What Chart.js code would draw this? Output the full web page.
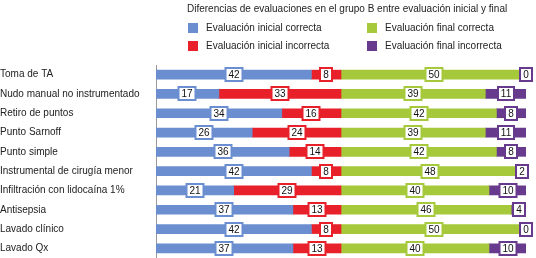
<!DOCTYPE html>
<html>
<head>
<meta charset="utf-8">
<script src="https://cdn.jsdelivr.net/npm/chart.js@4.4.1/dist/chart.umd.min.js"></script>
<style>
  body { margin: 0; background: #fff; font-family: "Liberation Sans", Arial, sans-serif; }
  #wrap { position: relative; width: 536px; height: 258px; }
  #chart { position: absolute; left: 0; top: 0; }
  .title { position: absolute; left: 187px; top: 3px; font-size: 10px; line-height: 12px; color: #222; white-space: nowrap; }
  .lg { position: absolute; font-size: 10px; color: #222; white-space: nowrap; line-height: 12px; }
  .lg span { position: absolute; left: -18px; top: 1px; width: 10px; height: 10px; }
</style>
</head>
<body>
<div id="wrap">
  <canvas id="chart" width="536" height="258"></canvas>
  <div class="title">Diferencias de evaluaciones en el grupo B entre evaluación inicial y final</div>
  <div class="lg" style="left:206px;top:22px"><span style="background:#6a8ecf"></span>Evaluación inicial correcta</div>
  <div class="lg" style="left:206px;top:40px"><span style="background:#e8202a"></span>Evaluación inicial incorrecta</div>
  <div class="lg" style="left:385px;top:22px"><span style="background:#a5c93a"></span>Evaluación final correcta</div>
  <div class="lg" style="left:385px;top:40px"><span style="background:#673a8e"></span>Evaluación final incorrecta</div>
</div>
<script>
var categories = ["Toma de TA", "Nudo manual no instrumentado", "Retiro de puntos", "Punto Sarnoff",
  "Punto simple", "Instrumental de cirugía menor", "Infiltración con lidocaína 1%",
  "Antisepsia", "Lavado clínico", "Lavado Qx"];
var inicialCorrecta   = [42, 17, 34, 26, 36, 42, 21, 37, 42, 37];
var inicialIncorrecta = [8, 33, 16, 24, 14, 8, 29, 13, 8, 13];
var finalCorrecta     = [50, 39, 42, 39, 42, 48, 40, 46, 50, 40];
var finalIncorrecta   = [0, 11, 8, 11, 8, 2, 10, 4, 0, 10];

// white boxes with the value, centred on each segment
var boxLabels = {
  id: "boxLabels",
  afterDatasetsDraw: function(chart) {
    var ctx = chart.ctx;
    ctx.save();
    ctx.font = "10px 'Liberation Sans', Arial, sans-serif";
    ctx.textAlign = "center";
    ctx.textBaseline = "middle";
    chart.data.datasets.forEach(function(ds, i) {
      var meta = chart.getDatasetMeta(i);
      meta.data.forEach(function(bar, j) {
        var txt = String(ds.data[j]);
        var cx = Math.round((bar.x + bar.base) / 2);
        var w = Math.round(ctx.measureText(txt).width) + 6;
        var h = 13;
        var y0 = Math.round(bar.y - h / 2);
        ctx.fillStyle = "#fff";
        ctx.fillRect(cx - w / 2, y0, w, h);
        ctx.strokeStyle = ds.backgroundColor;
        ctx.lineWidth = 2;
        ctx.strokeRect(cx - w / 2, y0, w, h);
        ctx.fillStyle = "#111";
        ctx.fillText(txt, cx, y0 + h / 2 + 0.5);
      });
    });
    ctx.restore();
  }
};

new Chart(document.getElementById("chart"), {
  type: "bar",
  data: {
    labels: categories,
    datasets: [
      { label: "Evaluación inicial correcta", data: inicialCorrecta, backgroundColor: "#6a8ecf" },
      { label: "Evaluación inicial incorrecta", data: inicialIncorrecta, backgroundColor: "#e8202a" },
      { label: "Evaluación final correcta", data: finalCorrecta, backgroundColor: "#a5c93a" },
      { label: "Evaluación final incorrecta", data: finalIncorrecta, backgroundColor: "#673a8e" }
    ]
  },
  options: {
    indexAxis: "y",
    responsive: false,
    animation: false,
    layout: { padding: { top: 65, right: 10, bottom: 0, left: 0 } },
    datasets: { bar: { barThickness: 9 } },
    plugins: { legend: { display: false }, tooltip: { enabled: false } },
    scales: {
      x: { stacked: true, min: 0, max: 100, display: false },
      y: {
        stacked: true,
        grid: { display: false },
        border: { display: true, color: "#999", width: 1 },
        ticks: { color: "#222", font: { size: 10, family: "'Liberation Sans', Arial, sans-serif" }, crossAlign: "far", padding: 4 },
        afterFit: function(scale) {
          scale.width = 156;
          scale.paddingTop = 0;
          scale.paddingBottom = 0;
        }
      }
    }
  },
  plugins: [boxLabels]
});
</script>
</body>
</html>
